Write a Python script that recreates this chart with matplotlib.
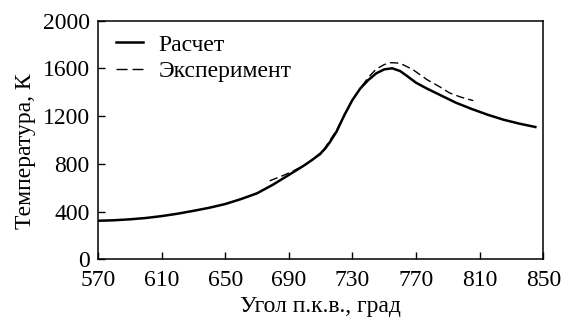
import matplotlib
matplotlib.use("Agg")
import matplotlib.pyplot as plt
from matplotlib.lines import Line2D

plt.rcParams['font.family'] = ['Liberation Serif', 'DejaVu Serif']

calc_x = [570, 580, 590, 600, 610, 620, 630, 640, 650, 660, 670, 680, 690, 695, 700,
          705, 710, 713, 716, 720, 725, 730, 735, 740, 745, 750, 755, 760, 765, 770,
          777, 785, 795, 805, 815, 825, 835, 845]
calc_y = [323, 327, 335, 346, 362, 382, 406, 432, 463, 505, 553, 625, 707, 748, 790,
          836, 888, 930, 985, 1070, 1210, 1335, 1433, 1503, 1559, 1592, 1601, 1578, 1530, 1480,
          1430, 1378, 1313, 1260, 1212, 1170, 1137, 1109]

exp_x = [678, 686, 692, 700, 710, 720, 730, 740, 745, 750, 754, 758, 762, 768, 777,
         785, 791, 798, 806]
exp_y = [658, 700, 735, 790, 880, 1080, 1340, 1525, 1595, 1632, 1648, 1646, 1630, 1590, 1505,
         1445, 1395, 1360, 1330]

xticks = [570, 610, 650, 690, 730, 770, 810, 850]
yticks = [0, 400, 800, 1200, 1600, 2000]

W, H = 562, 320
L, R, T, B = 97.9, 543.3, 20.7, 259.3

fig = plt.figure(figsize=(W / 100, H / 100), dpi=100)
ax = fig.add_axes([L / W, 1 - B / H, (R - L) / W, (B - T) / H])

ax.plot(calc_x, calc_y, color='black', lw=1.8, solid_joinstyle='round')
ax.plot(exp_x, exp_y, color='black', lw=1.0, dashes=(6, 3))

ax.set_xlim(570, 850)
ax.set_ylim(0, 2000)
ax.set_xticks(xticks)
ax.set_yticks(yticks)
ax.tick_params(direction='in', length=5, width=1, labelsize=17)
ax.tick_params(axis='x', pad=8)
ax.tick_params(axis='y', pad=6)
for s in ax.spines.values():
    s.set_linewidth(1.1)

ax.set_xlabel('Угол п.к.в., град', fontsize=17, labelpad=3)
ax.set_ylabel('Температура, К', fontsize=17)
ax.yaxis.set_label_coords(-0.140, 0.455)

handles = [Line2D([], [], color='black', lw=1.8),
           Line2D([], [], color='black', lw=1.0, dashes=(8, 3.6))]
ax.legend(handles, ['Расчет', 'Эксперимент'], loc='upper left', frameon=False,
          fontsize=17, handlelength=1.16, handletextpad=0.64, labelspacing=0.2,
          borderpad=0, borderaxespad=0, bbox_to_anchor=(0.040, 0.944))

fig.savefig('out.png', dpi=100)
